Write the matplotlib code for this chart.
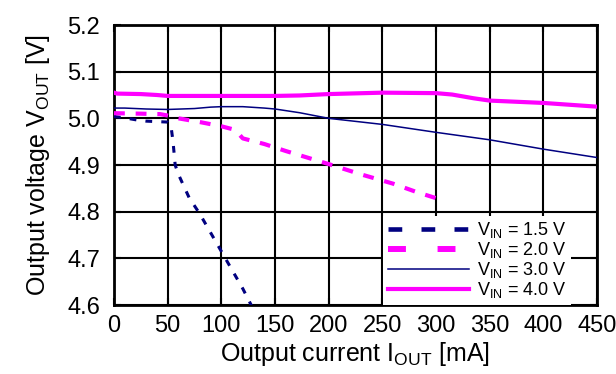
import matplotlib
matplotlib.use("Agg")
import matplotlib.pyplot as plt
from matplotlib.lines import Line2D

plt.rcParams['font.family'] = ['Liberation Sans', 'DejaVu Sans']

# Data
i15 = [0, 10, 20, 30, 40, 50, 53, 55, 57, 60, 70, 80, 90, 100, 110, 120, 130]
v15 = [5.004, 5.001, 4.997, 4.994, 4.993, 4.992, 4.985, 4.95, 4.90, 4.88, 4.83, 4.795, 4.755, 4.715, 4.675, 4.635, 4.59]

i20 = [0, 25, 43, 50, 60, 80, 100, 110, 115, 120, 140, 160, 200, 230, 260, 282, 300]
v20 = [5.011, 5.01, 5.009, 5.006, 5.0, 4.992, 4.983, 4.977, 4.97, 4.957, 4.945, 4.93, 4.902, 4.88, 4.86, 4.842, 4.829]

i30 = [0, 10, 20, 30, 50, 75, 90, 100, 120, 140, 150, 173, 200, 250, 300, 350, 400, 450]
v30 = [5.022, 5.022, 5.021, 5.02, 5.019, 5.021, 5.024, 5.025, 5.025, 5.022, 5.02, 5.012, 5.0, 4.987, 4.97, 4.954, 4.934, 4.916]

i40 = [0, 3, 25, 40, 50, 100, 150, 173, 200, 250, 300, 315, 335, 350, 400, 450]
v40 = [5.055, 5.053, 5.052, 5.05, 5.048, 5.048, 5.048, 5.049, 5.052, 5.055, 5.054, 5.051, 5.043, 5.038, 5.033, 5.025]

labels = ['V$_{\\mathregular{IN}}$ = 1.5 V', 'V$_{\\mathregular{IN}}$ = 2.0 V',
          'V$_{\\mathregular{IN}}$ = 3.0 V', 'V$_{\\mathregular{IN}}$ = 4.0 V']
xticks = [0, 50, 100, 150, 200, 250, 300, 350, 400, 450]
yticks = [4.6, 4.7, 4.8, 4.9, 5.0, 5.1, 5.2]

navy = '#000080'
mag = '#FF00FF'

fig = plt.figure(figsize=(6.16, 3.74), dpi=100)
ax = fig.add_axes([114/616, 1 - 305/374, (597-114)/616, (305-25)/374])

ax.plot(i15, v15, color=navy, lw=2.2, dashes=(2.2, 3.0), zorder=3)
ax.plot(i20, v20, color=mag, lw=3.0, dashes=(2.6, 2.6), zorder=3)
ax.plot(i30, v30, color=navy, lw=1.1, zorder=3)
ax.plot(i40, v40, color=mag, lw=3.0, zorder=3)

ax.set_xlim(0, 450)
ax.set_ylim(4.6, 5.2)
ax.set_xticks(xticks)
ax.set_yticks(yticks)
ax.set_xticklabels([str(t) for t in xticks])
ax.set_yticklabels([f"{t:.1f}" for t in yticks])
ax.grid(True, color='black', lw=1.5)
ax.tick_params(direction='in', length=5, width=1.5, top=True, right=True,
               labelsize=17, colors='black')
ax.tick_params(axis='y', pad=10)
ax.tick_params(axis='x', pad=7)
for s in ax.spines.values():
    s.set_linewidth(2)
    s.set_color('black')

ax.set_xlabel('Output current I$_{\\mathregular{OUT}}$ [mA]', fontsize=18, labelpad=2)
ax.set_ylabel('Output voltage V$_{\\mathregular{OUT}}$ [V]', fontsize=18, labelpad=11)

handles = [
    Line2D([], [], color=navy, lw=3.3, dashes=(3, 4.2)),
    Line2D([], [], color=mag, lw=4.3, dashes=(3, 5.3)),
    Line2D([], [], color=navy, lw=1.1),
    Line2D([], [], color=mag, lw=3.0),
]
leg = ax.legend(handles, labels, loc='lower left', bbox_to_anchor=((383-114)/483, 0.0),
                fontsize=13, handlelength=4.5, handletextpad=0.45, labelspacing=0.0,
                borderaxespad=0.0, borderpad=0.25, frameon=True, fancybox=False,
                framealpha=1, facecolor='white', edgecolor='none')
leg.get_frame().set_width(597 - 383)

fig.savefig('out.png', dpi=100)
